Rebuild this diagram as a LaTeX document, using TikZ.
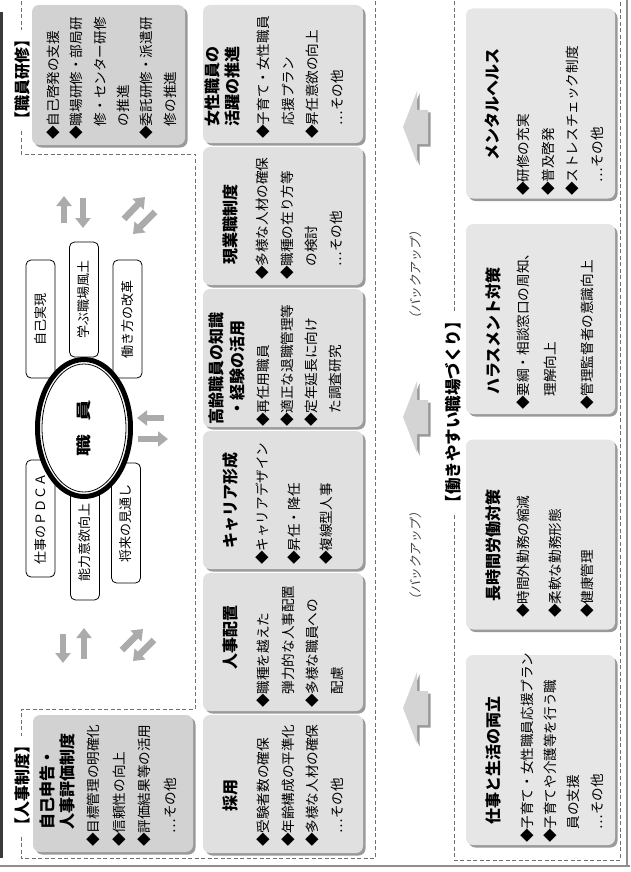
\documentclass[tikz,border=0pt]{standalone}
\usepackage{fontspec}
\usepackage{graphicx}
\setmainfont{Noto Sans CJK JP}
\newfontfamily\slantfont{Noto Sans CJK JP}[FakeSlant=0.2]
\usetikzlibrary{arrows.meta,shapes.geometric}
\definecolor{framegray}{HTML}{707070}
\definecolor{darkpanel}{HTML}{D2D2D2}
\definecolor{rowpanel}{HTML}{E0E0E0}
\definecolor{workpanel}{HTML}{E6E6E6}
\definecolor{shadowgray}{HTML}{9A9A9A}
\definecolor{arrowgray}{HTML}{ABABAB}
\definecolor{bigarrow}{HTML}{D4D4D4}
\definecolor{pagedark}{HTML}{3A3A3A}
\definecolor{pagegray}{HTML}{8E8E8E}
\tikzset{
  frametitle/.style={font=\bfseries\fontsize{16}{18}\selectfont,fill=white,inner sep=1.5pt,rotate=90},
  boxtitle/.style={font=\bfseries\fontsize{16}{20.5}\selectfont,align=center,inner sep=0pt,rotate=90},
  items/.style={font=\fontsize{13.6}{24.5}\selectfont,align=left,inner sep=0pt,rotate=90,anchor=north west},
  panel/.style={rounded corners=7pt,inner sep=0pt,rotate=90,preaction={fill=shadowgray,transform canvas={xshift=2.5pt,yshift=-2.5pt}}},
  goalbox/.style={draw,line width=0.8pt,rounded corners=5pt,fill=white,rotate=90,minimum height=29,inner sep=0pt,font=\fontsize{13}{13}\selectfont},
  staffring/.style={ellipse,draw=black,line width=5pt,fill=white,rotate=90,minimum width=137,minimum height=93,inner sep=0pt},
  framedash/.style={draw=framegray,line width=1pt,dash pattern=on 4pt off 2.5pt},
  pairarrow/.style={-{Triangle[length=10pt,width=15pt]},line width=6.5pt,draw=arrowgray},
  backup/.style={font=\slantfont\fontsize{12.5}{12.5}\selectfont,text=black!75,rotate=90,inner sep=0pt}
}
\begin{document}
\begin{tikzpicture}[x=1pt,y=-1pt]
\path[use as bounding box] (0,0) rectangle (630,872);
\clip (0,0) rectangle (630,872);

% page edges
\draw[pagedark,line width=3pt] (1.5,12) -- (1.5,858);
\draw[pagegray,line width=2.5pt] (0,866) -- (630,866);
\draw[pagegray,line width=2pt] (627,0) -- (627,866);

% dashed frames
\draw[framedash] (21,-5) -- (21,154) -- (195,154) -- (195,709) -- (21,709) -- (21,858) -- (375,858) -- (375,-5);
\draw[framedash] (454,-5) -- (454,860) -- (620,860) -- (620,-5);

% personnel system
\node[panel,fill=darkpanel,minimum width=137,minimum height=160] (selfbox) at (113,783.5) {};
\node[boxtitle,align=left,anchor=north west] (selfttl) at (39.5,830) {自己申告・\\人事評価制度};
\node[items,font=\fontsize{13.6}{25.7}\selectfont] (selfitems) at (86.3,847) {◆目標管理の明確化\\◆信頼性の向上\\◆評価結果等の活用\\\hphantom{◆}…その他};
\node[frametitle] (systtl) at (22,785) {【人事制度】};

% staff training
\node[panel,fill=darkpanel,minimum width=140,minimum height=153] (trainbox) at (108.5,75) {};
\node[items,font=\fontsize{13.6}{23.4}\selectfont] (trainitems) at (46.3,140) {◆自己啓発の支援\\◆職場研修・部局研\\\hphantom{◆}修・センター研修\\\hphantom{◆}の推進\\◆委託研修・派遣研\\\hphantom{◆}修の推進};
\node[frametitle] (trainttl) at (22,80) {【職員研修】};

% row of measures
\foreach \nm/\yc in {hire/784,assign/642,career/500,senior/358,field/216,women/74}
  \node[panel,fill=rowpanel,minimum width=138,minimum height=160] (\nm) at (283,\yc) {};
\node[boxtitle] (hirettl) at (230,795) {採用};
\node[items] (hireitems) at (256.5,847) {◆受験者数の確保\\◆年齢構成の平準化\\◆多様な人材の確保\\\hphantom{◆}…その他};
\node[boxtitle] (assignttl) at (230,637) {人事配置};
\node[items] (assignitems) at (256.5,708) {◆職種を越えた\\\hphantom{◆}弾力的な人事配置\\◆多様な職員への\\\hphantom{◆}配慮};
\node[boxtitle] (careerttl) at (230,500) {キャリア形成};
\node[items,font=\fontsize{13.6}{32}\selectfont] (careeritems) at (255,565) {◆キャリアデザイン\\◆昇任・降任\\◆複線型人事};
\node[boxtitle] (seniorttl) at (227,368) {高齢職員の知識\\・経験の活用};
\node[items,font=\fontsize{13.6}{24}\selectfont] (senioritems) at (256.5,427) {◆再任用職員\\◆適正な退職管理等\\◆定年延長に向け\\\hphantom{◆}た調査研究};
\node[boxtitle] (fieldttl) at (230,224) {現業職制度};
\node[items,font=\fontsize{13.6}{24.7}\selectfont] (fielditems) at (255.5,280) {◆多様な人材の確保\\◆職種の在り方等\\\hphantom{◆}の検討\\\hphantom{◆}…その他};
\node[boxtitle] (womenttl) at (222.5,87) {女性職員の\\活躍の推進};
\node[items] (womenitems) at (256.5,139) {◆子育て・女性職員\\\hphantom{◆}応援プラン\\◆昇任意欲の向上\\\hphantom{◆}…その他};

% workplace frame
\foreach \nm/\yc in {life/750,hours/534.5,harass/319,mental/103.5}
  \node[panel,fill=workpanel,minimum width=190,minimum height=149] (\nm) at (540.5,\yc) {};
\node[boxtitle] (lifettl) at (493,760) {仕事と生活の両立};
\node[items,font=\fontsize{13.6}{23.3}\selectfont] (lifeitems) at (520.3,843) {◆子育て・女性職員応援プラン\\◆子育てや介護等を行う職\\\hphantom{◆}員の支援\\\hphantom{◆}…その他};
\node[boxtitle] (hoursttl) at (493,545) {長時間労働対策};
\node[items,font=\fontsize{13.6}{32}\selectfont] (hoursitems) at (516.3,618) {◆時間外勤務の縮減\\◆柔軟な勤務形態\\◆健康管理};
\node[boxtitle] (harassttl) at (493,331) {ハラスメント対策};
\node[items,font=\fontsize{13.6}{27}\selectfont] (harassitems) at (516.3,410) {◆要綱・相談窓口の周知、\\\hphantom{◆}理解向上\\[10pt]◆管理監督者の意識向上};
\node[boxtitle] (mentalttl) at (492,104) {メンタルヘルス};
\node[items,font=\fontsize{13.6}{24.7}\selectfont] (mentalitems) at (516.3,196) {◆研修の充実\\◆普及啓発\\◆ストレスチェック制度\\\hphantom{◆}…その他};
\node[frametitle,font=\bfseries\fontsize{16.5}{18}\selectfont] (workttl) at (453,412) {【働きやすい職場づくり】};

% backup arrows
\foreach \yc in {127,417,708}{
  \fill[shadowgray,shift={(2.5,2.5)}] (403,\yc) -- (417,\yc-36) -- (417,\yc-17) -- (428,\yc-17) -- (428,\yc+17) -- (417,\yc+17) -- (417,\yc+36) -- cycle;
  \fill[bigarrow] (403,\yc) -- (417,\yc-36) -- (417,\yc-17) -- (428,\yc-17) -- (428,\yc+17) -- (417,\yc+17) -- (417,\yc+36) -- cycle;
}
\node[backup] (backup1) at (416,275) {（バックアップ）};
\node[backup] (backup2) at (416,556) {（バックアップ）};

% staff and goals
\node[goalbox,minimum width=117] (pdca) at (40.5,518.5) {仕事のＰＤＣＡ};
\node[goalbox,minimum width=115] (ability) at (85,542.5) {能力意欲向上};
\node[goalbox,minimum width=120] (future) at (126,523) {将来の見通し};
\node[goalbox,minimum width=118] (selfreal) at (40.5,319) {自己実現};
\node[goalbox,minimum width=115] (learn) at (84,299.5) {学ぶ職場風土};
\node[goalbox,minimum width=118] (reform) at (127.5,319) {働き方の改革};
\node[staffring] (staff) at (84,428) {\fontsize{15}{15}\bfseries\scalebox{1.45}[1]{職}\hspace{14pt}\scalebox{1.45}[1]{員}};
\draw[line width=0.8pt] (staff.center) ellipse [x radius=42,y radius=64];

% paired arrows
\foreach \n/\sx/\sy/\ex/\ey in {a1/164/418/137/418,a2/138/439/168/439,b1/64/223/64/196,b2/83/198/83/228,c1/124/219/145/197,c2/155/212/133/234,d1/63/634/63/663,d2/84/659/84/628,e1/122/650/143/629,e2/154/640/133/661}{
  \coordinate (s\n) at (\sx,\sy);
  \coordinate (t\n) at (\ex,\ey);
  \draw[pairarrow] (s\n) -- (t\n);
}
\end{tikzpicture}
\end{document}
